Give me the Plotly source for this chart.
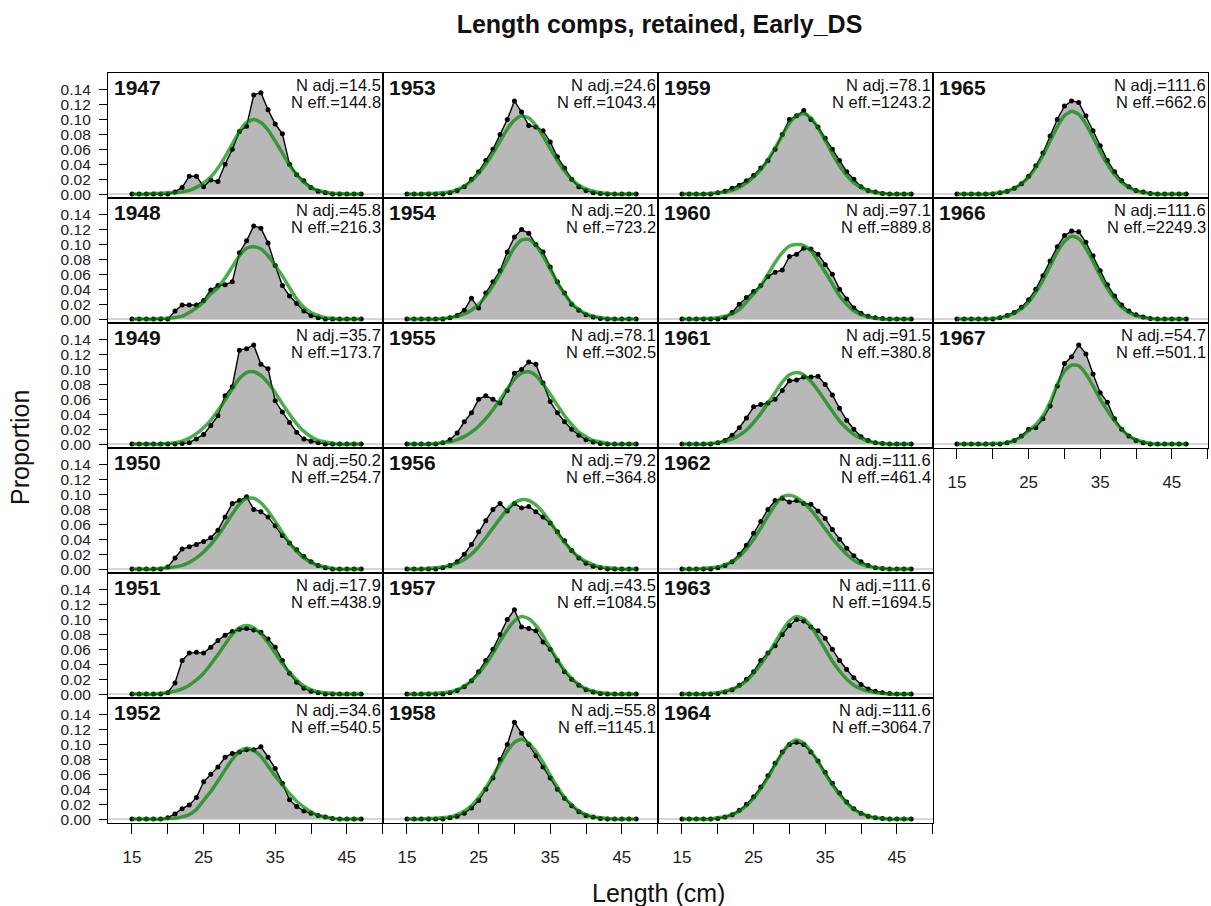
import plotly.graph_objects as go
from plotly.subplots import make_subplots

lengths = list(range(15, 48))
years = [1947, 1948, 1949, 1950, 1951, 1952, 1953, 1954, 1955, 1956, 1957,
         1958, 1959, 1960, 1961, 1962, 1963, 1964, 1965, 1966, 1967]
n_adj = ["14.5", "45.8", "35.7", "50.2", "17.9", "34.6", "24.6", "20.1", "78.1", "79.2", "43.5",
         "55.8", "78.1", "97.1", "91.5", "111.6", "111.6", "111.6", "111.6", "111.6", "54.7"]
n_eff = ["144.8", "216.3", "173.7", "254.7", "438.9", "540.5", "1043.4", "723.2", "302.5", "364.8", "1084.5",
         "1145.1", "1243.2", "889.8", "380.8", "461.4", "1694.5", "3064.7", "662.6", "2249.3", "501.1"]

obs_1947 = [0, 0, 0, 0, 0, 0, 0.003, 0.009, 0.024, 0.024, 0.010, 0.019, 0.017, 0.040, 0.060,
            0.084, 0.091, 0.133, 0.136, 0.113, 0.094, 0.081, 0.040, 0.026, 0.018, 0.009, 0.004, 0.002, 0, 0, 0, 0, 0]
exp_1947 = [0, 0, 0, 0.001, 0.001, 0.002, 0.002, 0.003, 0.005, 0.009, 0.015, 0.023, 0.035, 0.050, 0.067,
            0.084, 0.096, 0.100, 0.096, 0.086, 0.071, 0.055, 0.039, 0.026, 0.016, 0.009, 0.005, 0.003, 0.001, 0.001, 0, 0, 0]
obs_1948 = [0, 0, 0, 0, 0, 0, 0.011, 0.019, 0.019, 0.019, 0.025, 0.039, 0.045, 0.046, 0.050,
            0.089, 0.105, 0.125, 0.122, 0.102, 0.072, 0.045, 0.031, 0.021, 0.011, 0.005, 0.002, 0, 0, 0, 0, 0, 0]
exp_1948 = [0, 0, 0, 0, 0.001, 0.001, 0.002, 0.004, 0.009, 0.015, 0.023, 0.034, 0.042, 0.055, 0.070,
            0.085, 0.095, 0.097, 0.094, 0.085, 0.072, 0.058, 0.042, 0.027, 0.016, 0.009, 0.005, 0.002, 0.001, 0, 0, 0, 0]
obs_1949 = [0, 0, 0, 0, 0, 0, 0, 0.001, 0.002, 0.007, 0.013, 0.025, 0.038, 0.065, 0.077,
            0.126, 0.128, 0.133, 0.107, 0.101, 0.058, 0.043, 0.029, 0.016, 0.007, 0.004, 0.002, 0, 0, 0, 0, 0, 0]
exp_1949 = [0, 0, 0, 0, 0, 0.001, 0.002, 0.004, 0.008, 0.014, 0.022, 0.032, 0.045, 0.059, 0.074,
            0.088, 0.096, 0.097, 0.092, 0.082, 0.069, 0.054, 0.040, 0.027, 0.017, 0.010, 0.005, 0.003, 0.001, 0, 0, 0, 0]
obs_1950 = [0, 0, 0, 0, 0, 0.003, 0.015, 0.027, 0.030, 0.033, 0.037, 0.042, 0.052, 0.070, 0.088,
            0.092, 0.097, 0.080, 0.077, 0.070, 0.058, 0.045, 0.035, 0.026, 0.017, 0.010, 0.005, 0.002, 0, 0, 0, 0, 0]
exp_1950 = [0, 0, 0, 0, 0.001, 0.002, 0.003, 0.005, 0.009, 0.015, 0.023, 0.033, 0.045, 0.059, 0.074,
            0.087, 0.095, 0.095, 0.089, 0.078, 0.064, 0.049, 0.035, 0.024, 0.015, 0.009, 0.005, 0.003, 0.001, 0, 0, 0, 0]
obs_1951 = [0, 0, 0, 0, 0, 0.002, 0.015, 0.045, 0.055, 0.056, 0.055, 0.063, 0.072, 0.079, 0.084,
            0.087, 0.088, 0.086, 0.083, 0.074, 0.063, 0.045, 0.028, 0.016, 0.008, 0.004, 0.002, 0, 0, 0, 0, 0, 0]
exp_1951 = [0, 0, 0, 0, 0.001, 0.002, 0.004, 0.007, 0.012, 0.019, 0.028, 0.040, 0.053, 0.067, 0.080,
            0.089, 0.092, 0.089, 0.081, 0.069, 0.055, 0.041, 0.029, 0.019, 0.011, 0.006, 0.003, 0.002, 0.001, 0, 0, 0, 0]
obs_1952 = [0, 0, 0, 0, 0, 0.002, 0.007, 0.014, 0.019, 0.029, 0.050, 0.060, 0.070, 0.083, 0.088,
            0.090, 0.093, 0.093, 0.097, 0.083, 0.068, 0.048, 0.026, 0.017, 0.011, 0.008, 0.005, 0.003, 0.001, 0, 0, 0, 0]
exp_1952 = [0, 0, 0, 0, 0, 0.001, 0.001, 0.003, 0.006, 0.013, 0.025, 0.037, 0.051, 0.066, 0.080,
            0.091, 0.095, 0.092, 0.084, 0.071, 0.058, 0.046, 0.034, 0.024, 0.016, 0.010, 0.005, 0.003, 0.001, 0, 0, 0, 0]
obs_1953 = [0, 0, 0, 0, 0, 0, 0.002, 0.005, 0.010, 0.020, 0.030, 0.045, 0.060, 0.080, 0.100,
            0.125, 0.110, 0.092, 0.090, 0.085, 0.070, 0.050, 0.035, 0.020, 0.010, 0.005, 0.002, 0.001, 0, 0, 0, 0, 0]
exp_1953 = [0, 0, 0, 0.001, 0.001, 0.002, 0.003, 0.006, 0.011, 0.018, 0.028, 0.040, 0.055, 0.071, 0.087,
            0.099, 0.105, 0.102, 0.092, 0.078, 0.061, 0.045, 0.031, 0.020, 0.012, 0.007, 0.004, 0.002, 0.001, 0, 0, 0, 0]
obs_1954 = [0, 0, 0, 0, 0, 0, 0.002, 0.005, 0.012, 0.028, 0.015, 0.035, 0.050, 0.065, 0.090,
            0.110, 0.120, 0.115, 0.100, 0.090, 0.070, 0.050, 0.035, 0.020, 0.012, 0.006, 0.003, 0.001, 0, 0, 0, 0, 0]
exp_1954 = [0, 0, 0, 0, 0, 0.001, 0.002, 0.004, 0.007, 0.012, 0.020, 0.031, 0.045, 0.061, 0.079,
            0.096, 0.106, 0.107, 0.099, 0.085, 0.067, 0.049, 0.034, 0.021, 0.013, 0.007, 0.004, 0.002, 0.001, 0, 0, 0, 0]
obs_1955 = [0, 0, 0, 0, 0, 0.002, 0.006, 0.015, 0.030, 0.042, 0.060, 0.065, 0.060, 0.055, 0.072,
            0.095, 0.100, 0.110, 0.107, 0.082, 0.057, 0.042, 0.030, 0.020, 0.012, 0.006, 0.003, 0.001, 0, 0, 0, 0, 0]
exp_1955 = [0, 0, 0, 0, 0.001, 0.002, 0.003, 0.006, 0.010, 0.016, 0.024, 0.034, 0.046, 0.060, 0.074,
            0.087, 0.095, 0.097, 0.092, 0.081, 0.067, 0.052, 0.038, 0.026, 0.016, 0.010, 0.005, 0.003, 0.001, 0, 0, 0, 0]
obs_1956 = [0, 0, 0, 0, 0, 0.002, 0.005, 0.010, 0.020, 0.033, 0.050, 0.065, 0.080, 0.088, 0.078,
            0.088, 0.082, 0.084, 0.077, 0.070, 0.062, 0.050, 0.038, 0.025, 0.015, 0.008, 0.004, 0.002, 0, 0, 0, 0, 0]
exp_1956 = [0, 0, 0, 0.001, 0.002, 0.003, 0.005, 0.008, 0.013, 0.020, 0.030, 0.042, 0.055, 0.068, 0.080,
            0.089, 0.093, 0.092, 0.086, 0.076, 0.063, 0.049, 0.036, 0.025, 0.016, 0.010, 0.006, 0.003, 0.002, 0.001, 0, 0, 0]
obs_1957 = [0, 0, 0, 0, 0, 0, 0.002, 0.005, 0.010, 0.018, 0.030, 0.045, 0.060, 0.080, 0.100,
            0.113, 0.090, 0.088, 0.085, 0.070, 0.060, 0.045, 0.030, 0.020, 0.012, 0.006, 0.003, 0.001, 0, 0, 0, 0, 0]
exp_1957 = [0, 0, 0, 0.001, 0.001, 0.002, 0.003, 0.006, 0.011, 0.018, 0.028, 0.040, 0.055, 0.071, 0.086,
            0.098, 0.104, 0.101, 0.092, 0.078, 0.062, 0.046, 0.032, 0.021, 0.013, 0.007, 0.004, 0.002, 0.001, 0, 0, 0, 0]
obs_1958 = [0, 0, 0, 0, 0, 0, 0.002, 0.004, 0.008, 0.015, 0.025, 0.040, 0.055, 0.080, 0.100,
            0.130, 0.115, 0.100, 0.085, 0.070, 0.055, 0.040, 0.028, 0.018, 0.010, 0.005, 0.003, 0.001, 0, 0, 0, 0, 0]
exp_1958 = [0, 0, 0, 0.001, 0.001, 0.002, 0.003, 0.006, 0.011, 0.018, 0.029, 0.042, 0.058, 0.075, 0.091,
            0.103, 0.107, 0.102, 0.091, 0.076, 0.059, 0.043, 0.029, 0.019, 0.011, 0.006, 0.003, 0.002, 0.001, 0, 0, 0, 0]
obs_1959 = [0, 0, 0, 0, 0, 0.002, 0.004, 0.008, 0.012, 0.018, 0.025, 0.035, 0.045, 0.060, 0.080,
            0.100, 0.105, 0.112, 0.100, 0.090, 0.075, 0.060, 0.045, 0.030, 0.020, 0.010, 0.005, 0.003, 0.001, 0, 0, 0, 0]
exp_1959 = [0, 0, 0, 0, 0.001, 0.002, 0.003, 0.005, 0.009, 0.015, 0.023, 0.033, 0.046, 0.062, 0.079,
            0.095, 0.105, 0.108, 0.102, 0.089, 0.072, 0.054, 0.038, 0.025, 0.015, 0.009, 0.005, 0.002, 0.001, 0, 0, 0, 0]
obs_1960 = [0, 0, 0, 0, 0, 0, 0.002, 0.009, 0.020, 0.029, 0.037, 0.045, 0.057, 0.063, 0.066,
            0.084, 0.087, 0.095, 0.094, 0.087, 0.073, 0.060, 0.040, 0.027, 0.015, 0.008, 0.004, 0.002, 0.001, 0, 0, 0, 0]
exp_1960 = [0, 0, 0, 0.001, 0.001, 0.002, 0.004, 0.007, 0.013, 0.023, 0.034, 0.045, 0.060, 0.076, 0.089,
            0.098, 0.100, 0.099, 0.092, 0.078, 0.063, 0.047, 0.031, 0.020, 0.011, 0.006, 0.003, 0.001, 0, 0, 0, 0, 0]
obs_1961 = [0, 0, 0, 0, 0, 0.002, 0.005, 0.012, 0.022, 0.035, 0.050, 0.053, 0.055, 0.060, 0.072,
            0.085, 0.086, 0.090, 0.090, 0.091, 0.080, 0.066, 0.048, 0.032, 0.020, 0.010, 0.005, 0.002, 0.001, 0, 0, 0, 0]
exp_1961 = [0, 0, 0, 0, 0.001, 0.002, 0.004, 0.007, 0.012, 0.019, 0.029, 0.041, 0.055, 0.069, 0.083,
            0.093, 0.096, 0.093, 0.084, 0.072, 0.058, 0.044, 0.031, 0.021, 0.013, 0.008, 0.004, 0.002, 0.001, 0, 0, 0, 0]
obs_1962 = [0, 0, 0, 0, 0, 0.002, 0.005, 0.010, 0.020, 0.032, 0.048, 0.064, 0.080, 0.092, 0.095,
            0.090, 0.092, 0.088, 0.087, 0.078, 0.068, 0.053, 0.040, 0.028, 0.018, 0.010, 0.005, 0.002, 0.001, 0, 0, 0, 0]
exp_1962 = [0, 0, 0, 0.001, 0.002, 0.003, 0.006, 0.010, 0.017, 0.027, 0.040, 0.055, 0.071, 0.086, 0.097,
            0.099, 0.096, 0.089, 0.079, 0.067, 0.054, 0.041, 0.030, 0.020, 0.012, 0.007, 0.004, 0.002, 0.001, 0, 0, 0, 0]
obs_1963 = [0, 0, 0, 0, 0, 0.001, 0.003, 0.006, 0.012, 0.020, 0.030, 0.045, 0.055, 0.065, 0.080,
            0.092, 0.100, 0.098, 0.090, 0.085, 0.075, 0.060, 0.045, 0.033, 0.022, 0.013, 0.007, 0.004, 0.002, 0.001, 0, 0, 0]
exp_1963 = [0, 0, 0, 0, 0.001, 0.002, 0.004, 0.007, 0.011, 0.018, 0.028, 0.040, 0.054, 0.069, 0.085,
            0.098, 0.104, 0.101, 0.091, 0.076, 0.060, 0.044, 0.031, 0.020, 0.012, 0.007, 0.004, 0.002, 0.001, 0, 0, 0, 0]
obs_1964 = [0, 0, 0, 0, 0, 0.001, 0.003, 0.006, 0.012, 0.020, 0.030, 0.043, 0.058, 0.075, 0.090,
            0.100, 0.103, 0.100, 0.090, 0.078, 0.063, 0.048, 0.035, 0.023, 0.014, 0.008, 0.004, 0.002, 0.001, 0, 0, 0, 0]
exp_1964 = [0, 0, 0, 0, 0, 0.002, 0.003, 0.006, 0.011, 0.018, 0.028, 0.041, 0.056, 0.073, 0.089,
            0.101, 0.106, 0.102, 0.091, 0.077, 0.061, 0.046, 0.033, 0.022, 0.013, 0.008, 0.004, 0.002, 0.001, 0, 0, 0, 0]
obs_1965 = [0, 0, 0, 0, 0, 0, 0.002, 0.004, 0.008, 0.014, 0.024, 0.038, 0.055, 0.078, 0.100,
            0.118, 0.125, 0.123, 0.105, 0.085, 0.065, 0.045, 0.030, 0.018, 0.010, 0.005, 0.003, 0.001, 0, 0, 0, 0, 0]
exp_1965 = [0, 0, 0, 0, 0, 0.001, 0.002, 0.004, 0.008, 0.014, 0.023, 0.036, 0.052, 0.071, 0.090,
            0.105, 0.111, 0.107, 0.094, 0.076, 0.057, 0.040, 0.026, 0.016, 0.009, 0.005, 0.002, 0.001, 0, 0, 0, 0, 0]
obs_1966 = [0, 0, 0, 0, 0, 0, 0.002, 0.005, 0.009, 0.016, 0.026, 0.040, 0.058, 0.078, 0.097,
            0.112, 0.118, 0.117, 0.103, 0.085, 0.065, 0.046, 0.031, 0.019, 0.011, 0.006, 0.003, 0.001, 0, 0, 0, 0, 0]
exp_1966 = [0, 0, 0, 0, 0, 0.001, 0.002, 0.004, 0.008, 0.014, 0.023, 0.036, 0.052, 0.071, 0.090,
            0.104, 0.111, 0.108, 0.095, 0.077, 0.058, 0.041, 0.027, 0.016, 0.009, 0.005, 0.002, 0.001, 0, 0, 0, 0, 0]
obs_1967 = [0, 0, 0, 0, 0, 0, 0, 0.002, 0.005, 0.011, 0.020, 0.022, 0.034, 0.051, 0.078,
            0.108, 0.117, 0.133, 0.121, 0.094, 0.069, 0.056, 0.034, 0.020, 0.011, 0.005, 0.002, 0, 0, 0, 0, 0, 0]
exp_1967 = [0, 0, 0, 0, 0, 0.001, 0.001, 0.002, 0.005, 0.010, 0.018, 0.026, 0.038, 0.056, 0.080,
            0.098, 0.106, 0.105, 0.094, 0.078, 0.060, 0.045, 0.031, 0.020, 0.011, 0.006, 0.003, 0.001, 0, 0, 0, 0, 0]

observed = [obs_1947, obs_1948, obs_1949, obs_1950, obs_1951, obs_1952, obs_1953, obs_1954,
            obs_1955, obs_1956, obs_1957, obs_1958, obs_1959, obs_1960, obs_1961, obs_1962,
            obs_1963, obs_1964, obs_1965, obs_1966, obs_1967]
expected = [exp_1947, exp_1948, exp_1949, exp_1950, exp_1951, exp_1952, exp_1953, exp_1954,
            exp_1955, exp_1956, exp_1957, exp_1958, exp_1959, exp_1960, exp_1961, exp_1962,
            exp_1963, exp_1964, exp_1965, exp_1966, exp_1967]

y_tickvals = [0, 0.02, 0.04, 0.06, 0.08, 0.10, 0.12, 0.14]
y_ticktext = ["0.00", "0.02", "0.04", "0.06", "0.08", "0.10", "0.12", "0.14"]
x_tickvals = [15, 20, 25, 30, 35, 40, 45, 50]
x_ticktext = ["15", "", "25", "", "35", "", "45", ""]

NROWS, NCOLS = 6, 4
W, H = 1211, 906
ML, MR, MT, MB = 108, 3, 73, 83
PW = (W - ML - MR) / NCOLS
PH = (H - MT - MB) / NROWS
FONT = "Liberation Sans, Arial, sans-serif"

fig = make_subplots(rows=NROWS, cols=NCOLS, horizontal_spacing=0, vertical_spacing=0)

XR = [11.65, 50.05]
YR = [-0.0052, 0.1624]

used = set()
for i, yr in enumerate(years):
    col = i // NROWS
    row = i % NROWS
    used.add((row, col))
    r, c = row + 1, col + 1
    fig.add_trace(go.Scatter(x=lengths, y=observed[i], mode="lines+markers", fill="tozeroy",
                             fillcolor="#b8b8b8", line=dict(color="black", width=1.4),
                             marker=dict(color="black", size=5), hoverinfo="skip",
                             showlegend=False), row=r, col=c)
    fig.add_trace(go.Scatter(x=lengths, y=expected[i], mode="lines",
                             line=dict(color="rgba(0,135,0,0.7)", width=3.5, shape="spline", smoothing=0.6),
                             hoverinfo="skip", showlegend=False), row=r, col=c)

for row in range(NROWS):
    for col in range(NCOLS):
        idx = row * NCOLS + col + 1
        xa = "xaxis" if idx == 1 else f"xaxis{idx}"
        ya = "yaxis" if idx == 1 else f"yaxis{idx}"
        xs = "x" if idx == 1 else f"x{idx}"
        ys = "y" if idx == 1 else f"y{idx}"
        if (row, col) not in used:
            fig.layout[xa].update(visible=False)
            fig.layout[ya].update(visible=False)
            continue
        bottom = (row + 1, col) not in used
        fig.layout[xa].update(range=XR, showgrid=False, zeroline=False, showline=True, mirror=True,
                              linecolor="black", linewidth=1.3,
                              ticks="outside" if bottom else "", ticklen=10, tickwidth=1.3,
                              tickcolor="black",
                              tickvals=x_tickvals if bottom else [], ticktext=x_ticktext if bottom else [],
                              showticklabels=bottom, ticklabelstandoff=8,
                              tickfont=dict(family=FONT, size=17, color="#222"))
        left = col == 0
        fig.layout[ya].update(range=YR, showgrid=False, zeroline=False, showline=True, mirror=True,
                              linecolor="black", linewidth=1.3,
                              ticks="outside" if left else "", ticklen=8, tickwidth=1.3,
                              tickcolor="black",
                              tickvals=y_tickvals if left else [], ticktext=y_ticktext if left else [],
                              showticklabels=left, ticklabelstandoff=5,
                              tickfont=dict(family=FONT, size=15.5, color="#222"))
        fig.add_shape(type="line", xref=f"{xs} domain", yref=ys, x0=0, x1=1, y0=0, y1=0,
                      line=dict(color="#c8c8c8", width=1.5), layer="below")

for i, yr in enumerate(years):
    col = i // NROWS
    row = i % NROWS
    idx = row * NCOLS + col + 1
    xs = "x" if idx == 1 else f"x{idx}"
    ys = "y" if idx == 1 else f"y{idx}"
    fig.add_annotation(xref=f"{xs} domain", yref=f"{ys} domain", x=5 / PW, y=1 - 14.8 / PH,
                       xanchor="left", yanchor="middle", text=f"<b>{yr}</b>", showarrow=False,
                       font=dict(family=FONT, size=21, color="#111"), borderpad=0)
    fig.add_annotation(xref=f"{xs} domain", yref=f"{ys} domain", x=1 - 1 / PW, y=1 - 11.5 / PH,
                       xanchor="right", yanchor="middle", text=f"N adj.={n_adj[i]}", showarrow=False,
                       font=dict(family=FONT, size=16.5, color="#111"), borderpad=0)
    fig.add_annotation(xref=f"{xs} domain", yref=f"{ys} domain", x=1 - 1 / PW, y=1 - 28.8 / PH,
                       xanchor="right", yanchor="middle", text=f"N eff.={n_eff[i]}", showarrow=False,
                       font=dict(family=FONT, size=16.5, color="#111"), borderpad=0)

fig.add_annotation(xref="paper", yref="paper", x=(658 - ML) / (W - ML - MR), y=(H - MB - 893) / (H - MT - MB),
                   xanchor="center", yanchor="middle", text="Length (cm)", showarrow=False,
                   font=dict(family=FONT, size=25, color="#111"))
fig.add_annotation(xref="paper", yref="paper", x=(20 - ML) / (W - ML - MR), y=0.5,
                   xanchor="center", yanchor="middle", text="Proportion", showarrow=False, textangle=-90,
                   font=dict(family=FONT, size=25, color="#111"))

fig.update_layout(
    width=W, height=H,
    margin=dict(l=ML, r=MR, t=MT, b=MB),
    paper_bgcolor="white", plot_bgcolor="white",
    title=dict(text="<b>Length comps, retained, Early_DS</b>", x=(659.5 - ML) / (W - ML - MR), xref="paper",
               xanchor="center", y=1 - 24 / H, yref="container", yanchor="middle",
               font=dict(family=FONT, size=25, color="#111")),
    showlegend=False,
)

fig.write_html("out.html")
